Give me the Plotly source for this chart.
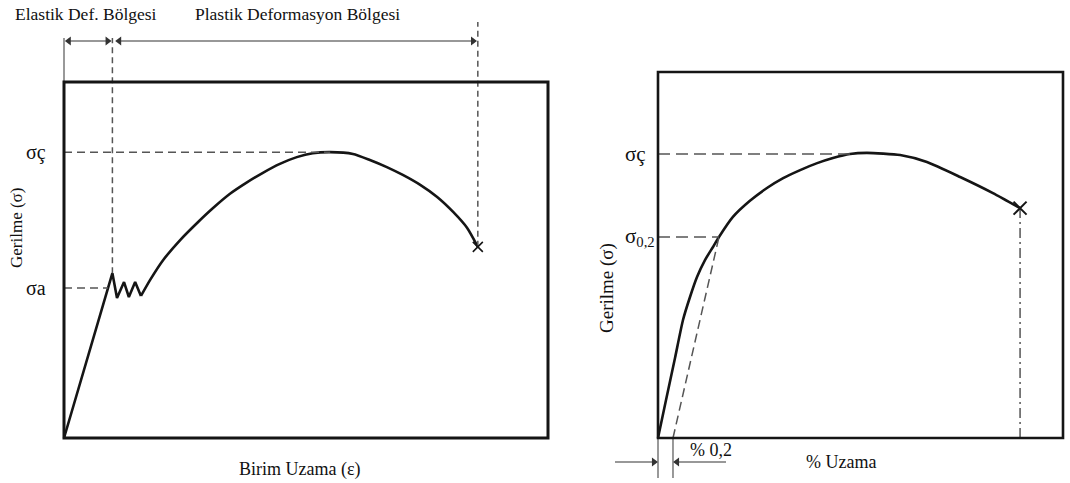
import plotly.graph_objects as go

# ---------------- DATA ----------------
# Left diagram: strain (% of box width), stress (% of box height)
left_zig_strain = [0, 10.0, 10.95, 12.4, 13.4, 14.7, 15.9]
left_zig_stress = [0, 46.3, 39.3, 43.8, 39.6, 43.8, 39.9]
left_strain = [15.9, 17.8, 20.5, 24.0, 27.5, 30.8, 34.3,
               37.8, 41.1, 44.6, 48.1, 51.4, 55.0, 59.7, 63.2, 66.7, 70.0, 73.6, 77.1,
               80.4, 83.3, 85.5]
left_stress = [39.9, 44.4, 50.0, 55.6, 60.4, 64.6, 68.6,
               71.8, 74.5, 77.0, 78.9, 80.0, 80.3, 79.8, 78.1, 76.1, 73.9, 71.1, 67.7,
               63.5, 59.0, 53.7]
left_sigma_a = 42.1
left_sigma_c = 80.3
left_yield_strain = 10.0
left_yield_peak = 46.3
left_peak_strain = 55.0
left_fracture = (85.5, 53.7)

# Right diagram
right_strain = [0, 1.98, 4.20, 6.17, 7.90, 9.63, 11.60, 13.58, 15.06, 18.5, 22.7, 26.9,
                30.9, 35.1, 39.3, 43.2, 47.4, 51.6, 59.8, 66.4, 74.6, 82.7, 89.4]
right_stress = [0, 10.38, 21.86, 32.24, 38.52, 43.99, 48.63, 52.19, 54.92, 60.4, 64.8, 68.3,
                71.0, 73.2, 75.1, 76.5, 77.6, 77.9, 77.3, 75.4, 71.3, 66.9, 62.8]
right_sigma_c = 77.6
right_sigma_02 = 54.92
right_yield_strain = 15.06
right_offset = 3.7
right_peak_strain = 47.4
right_fracture = (89.4, 62.8)

labels_left = {"sc": "σç", "sa": "σa", "ytitle": "Gerilme (σ)", "xtitle": "Birim Uzama (ε)",
               "elastic": "Elastik Def. Bölgesi", "plastic": "Plastik Deformasyon Bölgesi"}
labels_right = {"sc": "σç", "s02": "σ<sub>0,2</sub>", "ytitle": "Gerilme (σ)",
                "xtitle": "% Uzama", "offset": "% 0,2"}

# ---------------- LAYOUT GEOMETRY (pixels) ----------------
W, H = 1070, 483
SPLIT = 575
L_x0, L_x1, L_yb, L_yt = 64, 548, 438, 82
R_x0, R_x1, R_yb, R_yt = 658, 1063, 438, 72


def ranges(px0, px1, pyb, pyt, dom0, dom1):
    sx = (px1 - px0) / 100.0
    sy = (pyb - pyt) / 100.0
    xr = [(dom0 - px0) / sx, (dom1 - px0) / sx]
    yr = [(pyb - H) / sy, pyb / sy]
    return xr, yr, sx, sy


Lxr, Lyr, Lsx, Lsy = ranges(L_x0, L_x1, L_yb, L_yt, 0, SPLIT)
Rxr, Ryr, Rsx, Rsy = ranges(R_x0, R_x1, R_yb, R_yt, SPLIT, W)


def ly(p):
    return (L_yb - p) / Lsy


def lx(p):
    return (p - L_x0) / Lsx


def ry(p):
    return (R_yb - p) / Rsy


def rx(p):
    return (p - R_x0) / Rsx


FONT = "Liberation Serif, Times New Roman, serif"
BLACK = "#151515"
GRAY = "#555555"

fig = go.Figure()


def axes(ax):
    return ("x", "y") if ax == 1 else ("x2", "y2")


def line(x, y, ax, color=BLACK, width=2.6, dash=None, shape="linear"):
    xa, ya = axes(ax)
    fig.add_trace(go.Scatter(x=x, y=y, mode="lines",
                             line=dict(color=color, width=width, dash=dash, shape=shape,
                                       smoothing=0.6 if shape == "spline" else None),
                             xaxis=xa, yaxis=ya, hoverinfo="skip", showlegend=False))


def heads(xs, ys, symbols, ax):
    xa, ya = axes(ax)
    fig.add_trace(go.Scatter(x=xs, y=ys, mode="markers",
                             marker=dict(symbol=symbols, size=8, color="#333"),
                             xaxis=xa, yaxis=ya, hoverinfo="skip", showlegend=False,
                             cliponaxis=False))


# ---------- Left diagram ----------
line(left_zig_strain, left_zig_stress, 1)
line(left_strain, left_stress, 1, shape="spline")
line([0, left_peak_strain], [left_sigma_c, left_sigma_c], 1, GRAY, 1.5, "8px,5px")
a_x = left_yield_strain * left_sigma_a / left_yield_peak
line([0, a_x], [left_sigma_a, left_sigma_a], 1, GRAY, 1.5, "8px,5px")
line([left_yield_strain, left_yield_strain], [left_yield_peak, ly(38)], 1, GRAY, 1.5, "6px,4px")
line([left_fracture[0], left_fracture[0]], [left_fracture[1], ly(22)], 1, GRAY, 1.5, "6px,4px")
line([0, 0], [100, ly(38)], 1, GRAY, 1.2)
fig.add_trace(go.Scatter(x=[left_fracture[0]], y=[left_fracture[1]], mode="markers",
                         marker=dict(symbol="x-thin", size=10, line=dict(color=BLACK, width=1.6)),
                         xaxis="x", yaxis="y", hoverinfo="skip", showlegend=False))
# region arrows
arrow_y = ly(41)
line([0.6, left_yield_strain - 0.6], [arrow_y, arrow_y], 1, "#333", 1.2)
line([left_yield_strain + 1.0, left_fracture[0] - 0.6], [arrow_y, arrow_y], 1, "#333", 1.2)
heads([1.0, left_yield_strain - 1.0, left_yield_strain + 1.4, left_fracture[0] - 1.0],
      [arrow_y] * 4, ["triangle-left", "triangle-right", "triangle-left", "triangle-right"], 1)

# ---------- Right diagram ----------
line(right_strain, right_stress, 2, shape="spline")
line([0, right_peak_strain], [right_sigma_c, right_sigma_c], 2, GRAY, 1.5, "12px,6px")
line([0, right_yield_strain], [right_sigma_02, right_sigma_02], 2, GRAY, 1.5, "12px,6px")
line([right_offset, right_yield_strain], [0, right_sigma_02], 2, GRAY, 1.5, "9px,5px")
line([right_fracture[0], right_fracture[0]], [0, right_fracture[1]], 2, GRAY, 1.5,
     "10px,4px,2px,4px")
line([0, 0], [0, ry(478)], 2, GRAY, 1.2)
line([right_offset, right_offset], [0, ry(478)], 2, GRAY, 1.2)
fig.add_trace(go.Scatter(x=[right_fracture[0]], y=[right_fracture[1]], mode="markers",
                         marker=dict(symbol="x-thin", size=13, line=dict(color=BLACK, width=2)),
                         xaxis="x2", yaxis="y2", hoverinfo="skip", showlegend=False))
ay2 = ry(462)
line([rx(615), -0.5], [ay2, ay2], 2, "#333", 1.2)
line([right_offset + 0.5, rx(726)], [ay2, ay2], 2, "#333", 1.2)
heads([-1.0, right_offset + 1.0], [ay2, ay2], ["triangle-right", "triangle-left"], 2)

shapes = [
    dict(type="rect", xref="x", yref="y", x0=0, x1=100, y0=0, y1=100,
         line=dict(color=BLACK, width=3), layer="above"),
    dict(type="rect", xref="x2", yref="y2", x0=0, x1=100, y0=0, y1=100,
         line=dict(color=BLACK, width=2.6), layer="above"),
]

ann = []


def text(x, y, s, xref, yref, size, xanchor="center", angle=0):
    ann.append(dict(x=x, y=y, text=s, xref=xref, yref=yref, showarrow=False,
                    xanchor=xanchor, yanchor="middle", textangle=angle,
                    font=dict(family=FONT, size=size, color="#111")))


# left texts
text(lx(86), ly(14), labels_left["elastic"], "x", "y", 17.5)
text(lx(297), ly(14), labels_left["plastic"], "x", "y", 17.5)
text(lx(48), left_sigma_c, labels_left["sc"], "x", "y", 20, xanchor="right")
text(lx(48), left_sigma_a, labels_left["sa"], "x", "y", 20, xanchor="right")
text(lx(16), ly(228), labels_left["ytitle"], "x", "y", 17, angle=-90)
text(lx(300), ly(469), labels_left["xtitle"], "x", "y", 18)

# right texts
text(rx(648), right_sigma_c, labels_right["sc"], "x2", "y2", 21, xanchor="right")
text(rx(657), right_sigma_02, labels_right["s02"], "x2", "y2", 21, xanchor="right")
text(rx(607), ry(288), labels_right["ytitle"], "x2", "y2", 19, angle=-90)
text(rx(841), ry(462), labels_right["xtitle"], "x2", "y2", 18)
text(rx(711), ry(450), labels_right["offset"], "x2", "y2", 18)

axis_common = dict(showgrid=False, zeroline=False, showticklabels=False, ticks="",
                   showline=False, fixedrange=True)

fig.update_layout(
    width=W, height=H, autosize=False,
    margin=dict(l=0, r=0, t=0, b=0),
    paper_bgcolor="white", plot_bgcolor="white",
    xaxis=dict(domain=[0, SPLIT / W], range=Lxr, **axis_common),
    yaxis=dict(domain=[0, 1], range=Lyr, **axis_common),
    xaxis2=dict(domain=[SPLIT / W, 1], range=Rxr, anchor="y2", **axis_common),
    yaxis2=dict(domain=[0, 1], range=Ryr, anchor="x2", **axis_common),
    shapes=shapes, annotations=ann, showlegend=False,
)

fig.write_html("out.html")
